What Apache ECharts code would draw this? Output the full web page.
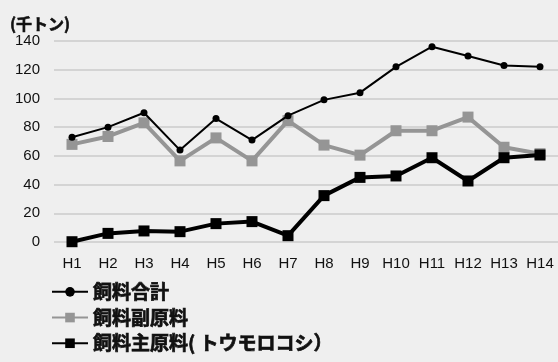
<!DOCTYPE html>
<html><head><meta charset="utf-8">
<script src="https://cdn.jsdelivr.net/npm/echarts@6/dist/echarts.min.js"></script>
<style>html,body{margin:0;padding:0;background:#efefef;}#c{width:558px;height:362px;}</style>
</head><body><div id="c"></div>
<script>
const categories = ['H1','H2','H3','H4','H5','H6','H7','H8','H9','H10','H11','H12','H13','H14'];
const totalFeed = [73, 80, 90, 64, 86, 71, 88, 99, 104, 122, 136, 129.5, 123, 122];
const subMaterial = [68, 73.5, 83, 56.5, 72.5, 56.5, 84.5, 67.5, 60.5, 77.5, 77.5, 87, 66, 61.5];
const mainMaterial = [0.2, 6, 7.7, 7.2, 12.8, 14.2, 4.4, 32.3, 45, 46, 58.7, 42.5, 58.7, 60.6];
const yTicks = [0, 20, 40, 60, 80, 100, 120, 140];
const names = ['飼料合計', '飼料副原料', '飼料主原料( トウモロコシ）'];

const chart = echarts.init(document.getElementById('c'), null, {renderer: 'canvas'});
const jp = '"Noto Sans CJK JP", "Liberation Sans", sans-serif';
chart.setOption({
  backgroundColor: '#efefef',
  animation: false,
  title: {text: '(千トン)', left: 5, top: 11, textStyle: {fontFamily: jp, fontSize: 16, fontWeight: 'bold', color: '#111', textBorderColor: '#111', textBorderWidth: 0.6}},
  grid: {left: 54, right: -3, top: 41, height: 201},
  legend: {
    orient: 'vertical', left: 46, top: 277, itemGap: 6, itemWidth: 36, itemHeight: 12,
    data: names,
    textStyle: {fontFamily: jp, fontSize: 19, fontWeight: 'bold', color: '#111', textBorderColor: '#111', textBorderWidth: 0.7}
  },
  xAxis: {
    type: 'category', data: categories, boundaryGap: true,
    axisLine: {show: false}, axisTick: {show: false},
    axisLabel: {fontFamily: '"Liberation Sans", sans-serif', fontSize: 15, color: '#111', margin: 14, interval: 0}
  },
  yAxis: {
    type: 'value', min: yTicks[0], max: yTicks[yTicks.length - 1], interval: 20,
    axisLine: {show: false}, axisTick: {show: false},
    axisLabel: {fontFamily: '"Liberation Sans", sans-serif', fontSize: 15, color: '#111', margin: 14},
    splitLine: {lineStyle: {color: '#d4d4d4', width: 2}}
  },
  series: [
    {name: names[0], type: 'line', data: totalFeed, symbol: 'circle', symbolSize: 7,
     itemStyle: {color: '#000'}, lineStyle: {color: '#000', width: 2}, z: 4},
    {name: names[1], type: 'line', data: subMaterial, symbol: 'rect', symbolSize: 11,
     itemStyle: {color: '#959595'}, lineStyle: {color: '#959595', width: 4}, z: 2},
    {name: names[2], type: 'line', data: mainMaterial, symbol: 'rect', symbolSize: 11,
     itemStyle: {color: '#000'}, lineStyle: {color: '#000', width: 4}, z: 3}
  ]
});
</script></body></html>
